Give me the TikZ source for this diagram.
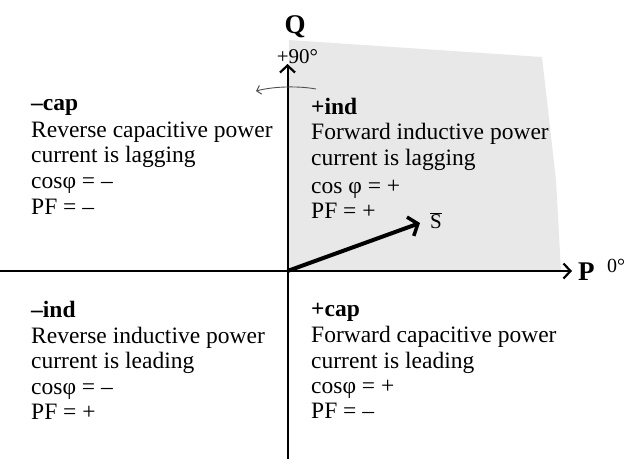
\documentclass[tikz,border=0pt]{standalone}
\usepackage{fontspec}
\setmainfont{Liberation Serif}
\usetikzlibrary{arrows.meta}
\definecolor{qshade}{RGB}{232,232,232}
\definecolor{thinarr}{RGB}{80,80,80}
\tikzset{
  txt/.style={anchor=base west, inner sep=0pt, font=\fontsize{23.5}{26}\selectfont},
  hdr/.style={txt, font=\fontsize{23.5}{26}\selectfont\bfseries},
  axislabel/.style={inner sep=0pt, font=\fontsize{27}{30}\selectfont\bfseries},
  axis/.style={line width=2pt, -{Straight Barb[length=7pt,width=15pt,line width=2.2pt]}},
  vect/.style={line width=4pt, -{Straight Barb[length=8pt,width=20pt,line width=3.5pt]}},
}
\begin{document}
\begin{tikzpicture}[x=1pt,y=-1pt]
\useasboundingbox (0,0) rectangle (627,459);
% shaded quadrant
\fill[qshade] (289,40) -- (542,57) -- (556,180) -- (561,271) -- (288,271) -- cycle;
% coordinates
\coordinate (O) at (287.5,271);
\coordinate (xl) at (0,271);
\coordinate (xr) at (572,271);
\coordinate (yb) at (287.5,459);
\coordinate (yt) at (287.5,64);
\coordinate (Stip) at (420,223);
\coordinate (ca) at (316,89);
\coordinate (cb) at (256,91);
% axes
\draw[axis] (xl) -- (xr);
\draw[axis] (yb) -- (yt);
% S vector
\draw[vect] (O) -- (Stip);
% curved arrow
\draw[thinarr, line width=0.9pt, -{Straight Barb[length=4pt,width=9pt,line width=1pt]}] (ca) .. controls (300,86) and (275,86) .. (cb);
% axis labels
\node[axislabel, anchor=base] (Q) at (295,33) {Q};
\node[inner sep=0pt, anchor=base, font=\fontsize{21}{24}\selectfont] (q90) at (297.5,63) {+90°};
\node[axislabel, anchor=base west] (P) at (578,280) {P};
\node[inner sep=0pt, anchor=base west, font=\fontsize{20}{22}\selectfont] (p0) at (607,272) {0°};
\node[inner sep=0pt, anchor=base west, font=\fontsize{21}{24}\selectfont] (S) at (430,228) {$\overline{\mbox{S}}$};
% top-left
\node[hdr] (tl1) at (31,110) {–cap};
\node[txt] (tl2) at (31,137) {Reverse capacitive power};
\node[txt] (tl3) at (31,162) {current is lagging};
\node[txt] (tl4) at (31,188) {cosφ = –};
\node[txt] (tl5) at (31,214) {PF = –};
% top-right
\node[hdr] (tr1) at (311,114) {+ind};
\node[txt] (tr2) at (311,139) {Forward inductive power};
\node[txt] (tr3) at (311,165) {current is lagging};
\node[txt] (tr4) at (311,193) {cos φ = +};
\node[txt] (tr5) at (311,218) {PF = +};
% bottom-left
\node[hdr] (bl1) at (31,317) {–ind};
\node[txt] (bl2) at (31,343) {Reverse inductive power};
\node[txt] (bl3) at (31,368) {current is leading};
\node[txt] (bl4) at (31,394) {cosφ = –};
\node[txt] (bl5) at (31,419) {PF = +};
% bottom-right
\node[hdr] (br1) at (311,316) {+cap};
\node[txt] (br2) at (311,342) {Forward capacitive power};
\node[txt] (br3) at (311,368) {current is leading};
\node[txt] (br4) at (311,393) {cosφ = +};
\node[txt] (br5) at (311,418) {PF = –};
\end{tikzpicture}
\end{document}
